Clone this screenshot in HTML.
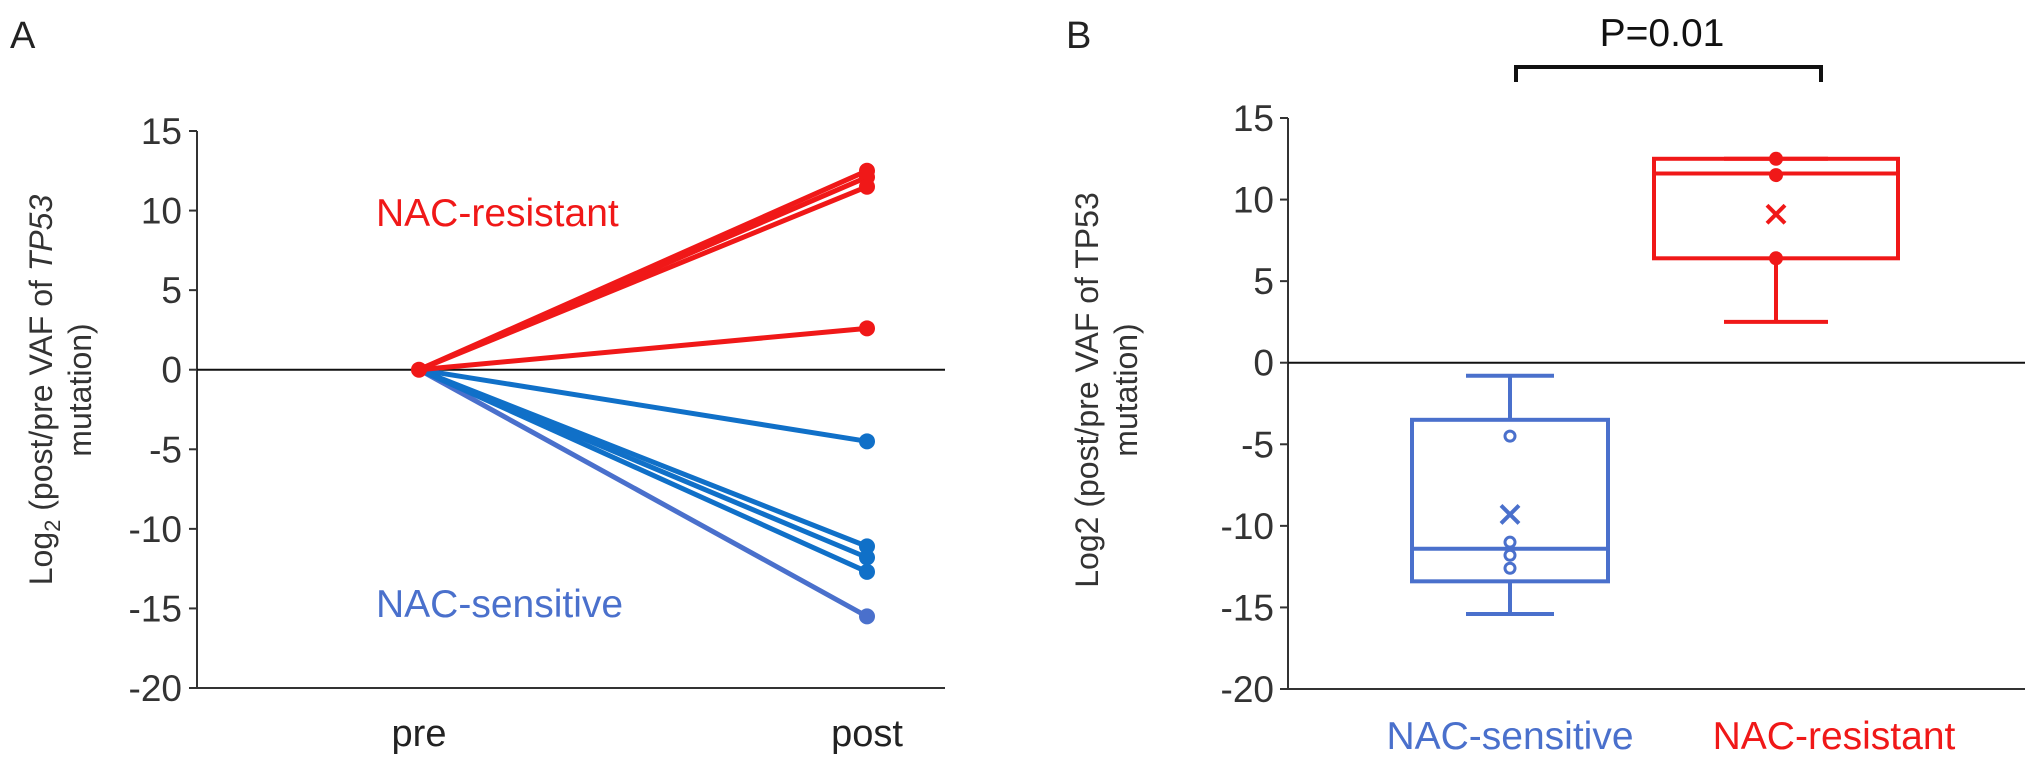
<!DOCTYPE html>
<html><head><meta charset="utf-8"><style>
body{margin:0;background:#fff;}
svg{display:block;font-family:"Liberation Sans","DejaVu Sans",sans-serif;}
</style></head><body>
<svg id="chart" width="2031" height="770" viewBox="0 0 2031 770"></svg>
<script>
const yTicks=[15,10,5,0,-5,-10,-15,-20];
const yTickLabels=["15","10","5","0","-5","-10","-15","-20"];
const aCategories=["pre","post"];
const aResistant=[12.5,12.1,11.5,2.6];
const aSensitive=[-4.5,-11.1,-11.8,-12.7];
const aSensitive2=[-15.5];
const bCategories=["NAC-sensitive","NAC-resistant"];
const bWhiskerHi=[-0.8,12.5];
const bQ3=[-3.5,12.5];
const bMedian=[-11.4,11.6];
const bQ1=[-13.4,6.4];
const bWhiskerLo=[-15.4,2.5];
const bMean=[-9.3,9.1];
const bPointsSens=[-4.5,-11.0,-11.8,-12.6];
const bPointsRes=[12.5,11.5,6.4];

const NS="http://www.w3.org/2000/svg";
const svg=document.getElementById('chart');
function mk(tag,attrs,parent){const e=document.createElementNS(NS,tag);for(const k in attrs)e.setAttribute(k,attrs[k]);(parent||svg).appendChild(e);return e;}
const RED="#f01818",BLUE="#1070c8",BLUE2="#4a70cc",DARK="#333";

// Panel A
function yAf(v){return 131+(15-v)*(688-131)/35;}
const xA=i=>[419,867][i];
let t=mk('text',{x:10,y:48,'font-size':38,fill:'#222'});t.textContent='A';

let l=mk('line',{x1:197,y1:131,x2:197,y2:688,stroke:DARK,'stroke-width':2});

l=mk('line',{x1:197,y1:688,x2:945,y2:688,stroke:DARK,'stroke-width':2});

l=mk('line',{x1:197,y1:yAf(0),x2:945,y2:yAf(0),stroke:'#111','stroke-width':2});

yTicks.forEach((v,i)=>{
  const tk=mk('line',{x1:189,y1:yAf(v),x2:197,y2:yAf(v),stroke:DARK,'stroke-width':2});
  
  const tx=mk('text',{x:182,y:yAf(v)+13,'font-size':37,fill:'#333','text-anchor':'end'});tx.textContent=yTickLabels[i];
  
});
aCategories.forEach((c,i)=>{
  const tx=mk('text',{x:xA(i),y:746,'font-size':38,fill:'#222','text-anchor':'middle'});tx.textContent=c;
  
});
let yt=mk('text',{transform:'translate(52,390) rotate(-90)','font-size':32,fill:'#333','text-anchor':'middle'});
yt.innerHTML='Log<tspan font-size="22" dy="8">2</tspan><tspan dy="-8"> (post/pre VAF of </tspan><tspan font-style="italic">TP53</tspan>';

yt=mk('text',{transform:'translate(91,390) rotate(-90)','font-size':32,fill:'#333','text-anchor':'middle'});yt.textContent='mutation)';

function seriesA(vals,color,name){
  vals.forEach(v=>{
    const ln=mk('line',{x1:xA(0),y1:yAf(0),x2:xA(1),y2:yAf(v),stroke:color,'stroke-width':5});
    
    const c=mk('circle',{cx:xA(1),cy:yAf(v),r:8,fill:color});
    
  });
}
seriesA(aSensitive2,BLUE2,'sensitive-purple');
seriesA(aSensitive,BLUE,'sensitive');
seriesA(aResistant,RED,'resistant');
let pc=mk('circle',{cx:xA(0),cy:yAf(0),r:8,fill:RED});

t=mk('text',{x:376,y:226,'font-size':39,fill:RED});t.textContent='NAC-resistant';

t=mk('text',{x:376,y:617,'font-size':39,fill:BLUE2});t.textContent='NAC-sensitive';


// Panel B
function yB(v){return 118+(15-v)*(689-118)/35;}
const xB=[1510,1776], bHalf=[98,122], capHalf=[44,52];
const bColors=[BLUE2,RED];
t=mk('text',{x:1066,y:48,'font-size':38,fill:'#222'});t.textContent='B';

l=mk('line',{x1:1288,y1:118,x2:1288,y2:689,stroke:DARK,'stroke-width':2});

l=mk('line',{x1:1288,y1:689,x2:2025,y2:689,stroke:DARK,'stroke-width':2});

l=mk('line',{x1:1288,y1:yB(0),x2:2025,y2:yB(0),stroke:'#111','stroke-width':2});

yTicks.forEach((v,i)=>{
  const tk=mk('line',{x1:1280,y1:yB(v),x2:1288,y2:yB(v),stroke:DARK,'stroke-width':2});
  
  const tx=mk('text',{x:1274,y:yB(v)+13,'font-size':37,fill:'#333','text-anchor':'end'});tx.textContent=yTickLabels[i];
  
});
yt=mk('text',{transform:'translate(1098,390) rotate(-90)','font-size':32,fill:'#333','text-anchor':'middle'});yt.textContent='Log2 (post/pre  VAF of TP53';

yt=mk('text',{transform:'translate(1137,390) rotate(-90)','font-size':32,fill:'#333','text-anchor':'middle'});yt.textContent='mutation)';

bCategories.forEach((c,i)=>{
  const x=xB[i],col=bColors[i];
  const tx=mk('text',{x:i==0?x:x+58,y:749,'font-size':39,fill:col,'text-anchor':'middle'});tx.textContent=c;
  
  let e=mk('line',{x1:x,y1:yB(bWhiskerHi[i]),x2:x,y2:yB(bQ3[i]),stroke:col,'stroke-width':4});
  
  e=mk('line',{x1:x,y1:yB(bQ1[i]),x2:x,y2:yB(bWhiskerLo[i]),stroke:col,'stroke-width':4});
  
  e=mk('line',{x1:x-capHalf[i],y1:yB(bWhiskerHi[i]),x2:x+capHalf[i],y2:yB(bWhiskerHi[i]),stroke:col,'stroke-width':4});
  
  e=mk('line',{x1:x-capHalf[i],y1:yB(bWhiskerLo[i]),x2:x+capHalf[i],y2:yB(bWhiskerLo[i]),stroke:col,'stroke-width':4});
  
  e=mk('rect',{x:x-bHalf[i],y:yB(bQ3[i]),width:bHalf[i]*2,height:yB(bQ1[i])-yB(bQ3[i]),fill:'none',stroke:col,'stroke-width':4});
  
  e=mk('line',{x1:x-bHalf[i],y1:yB(bMedian[i]),x2:x+bHalf[i],y2:yB(bMedian[i]),stroke:col,'stroke-width':4});
  
  const my=yB(bMean[i]);
  e=mk('path',{d:`M${x-9} ${my-9}L${x+9} ${my+9}M${x+9} ${my-9}L${x-9} ${my+9}`,stroke:col,'stroke-width':4});
  
});
bPointsSens.forEach(v=>{
  const c=mk('circle',{cx:xB[0],cy:yB(v),r:5,fill:'#fff',stroke:BLUE2,'stroke-width':3});
  
});
bPointsRes.forEach(v=>{
  const c=mk('circle',{cx:xB[1],cy:yB(v),r:7,fill:RED});
  
});
let br=mk('path',{d:'M1516 82 L1516 67 L1821 67 L1821 82',fill:'none',stroke:'#111','stroke-width':4});

t=mk('text',{x:1662,y:46,'font-size':39,fill:'#111','text-anchor':'middle'});t.textContent='P=0.01';

</script>
</body></html>
